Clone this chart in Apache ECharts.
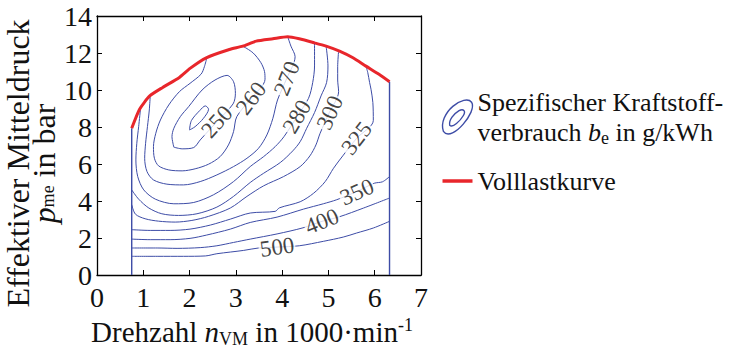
<!DOCTYPE html>
<html>
<head>
<meta charset="utf-8">
<title>Verbrauchskennfeld</title>
<script src="https://cdn.jsdelivr.net/npm/echarts@6/dist/echarts.min.js"></script>
<style>
  html, body { margin: 0; padding: 0; background: #fff; }
  #main { width: 740px; height: 349px; }
</style>
</head>
<body>
<div id="main"></div>
<script>
// Kennfeld: Linien gleichen spezifischen Verbrauchs b_e + Volllastkurve
// x = Drehzahl in 1000/min, y = effektiver Mitteldruck in bar

var xTicks = [0, 1, 2, 3, 4, 5, 6, 7];
var yTicks = [0, 2, 4, 6, 8, 10, 12, 14];

// Isolinien
var be245 = [[2.00,7.88],[2.04,8.35],[2.22,8.89],[2.34,9.14],[2.41,8.96],[2.30,8.47],[2.12,8.02],[2.00,7.84],[2.00,7.88]];
var be250 = [[1.66,6.91],[1.62,7.48],[1.66,7.93],[1.80,8.56],[1.98,9.10],[2.27,10.00],[2.55,10.54],[2.81,10.79],[2.95,10.45],[2.99,9.82],[2.94,9.25],[2.59,8.29],[2.23,7.30],[2.09,6.89],[1.84,6.82],[1.66,6.91]];
var be260 = [[2.37,11.71],[2.32,11.26],[2.25,10.86],[2.01,10.36],[1.78,9.91],[1.55,9.19],[1.37,8.38],[1.27,7.66],[1.22,6.94],[1.24,6.31],[1.33,5.90],[1.55,5.68],[1.84,5.63],[2.12,5.74],[2.41,5.99],[2.66,6.40],[2.84,7.03],[2.95,7.75],[3.02,8.56],[3.33,9.55],[3.63,10.58],[3.62,10.99],[3.54,11.48],[3.37,12.01],[3.15,12.37]];
var be270 = [[1.15,9.68],[1.13,8.92],[1.09,8.02],[1.05,7.12],[1.03,6.31],[1.08,5.59],[1.22,5.14],[1.51,4.91],[1.87,4.87],[2.23,5.05],[2.59,5.41],[2.95,5.86],[3.24,6.31],[3.49,6.85],[3.67,7.57],[3.80,8.47],[3.90,9.46],[4.10,10.63],[4.28,11.80],[4.19,12.37],[4.12,12.88]];
var be280 = [[0.94,8.99],[0.90,8.02],[0.86,7.12],[0.84,6.22],[0.88,5.32],[1.01,4.60],[1.26,4.10],[1.66,3.85],[2.09,3.92],[2.52,4.34],[2.95,5.05],[3.31,5.86],[3.60,6.40],[3.85,6.94],[4.04,7.48],[4.32,8.56],[4.57,9.55],[4.66,10.40],[4.70,11.30],[4.70,12.55]];
var be290 = [[0.75,4.60],[0.90,4.10],[1.12,3.62],[1.40,3.31],[1.76,3.22],[2.16,3.31],[2.59,3.67],[2.95,4.25],[3.31,5.00],[3.60,5.50],[3.96,6.08],[4.23,6.71],[4.39,7.21],[4.53,7.93],[4.70,8.78],[4.84,9.68],[4.96,10.40],[4.99,11.30],[4.95,12.37]];
var be300 = [[0.75,3.80],[0.83,3.29],[1.04,3.04],[1.33,2.91],[1.69,2.86],[2.05,2.95],[2.41,3.17],[2.88,3.62],[3.24,4.25],[3.60,4.82],[4.03,5.32],[4.39,5.86],[4.60,6.44],[4.73,7.03],[4.82,7.66],[5.02,8.78],[5.22,9.91],[5.20,10.54],[5.20,11.26],[5.22,12.12]];
var be325 = [[0.75,2.45],[1.15,2.41],[1.58,2.41],[2.01,2.48],[2.45,2.70],[2.88,3.02],[3.31,3.35],[3.85,3.44],[3.94,3.63],[4.39,3.96],[4.68,4.42],[4.93,5.05],[5.11,5.77],[5.31,6.44],[5.61,7.39],[5.97,8.35],[5.96,9.32],[5.92,10.04],[5.89,10.40],[5.85,10.94],[5.81,11.30]];
var be350 = [[0.75,1.94],[1.15,1.91],[1.58,1.91],[2.01,1.98],[2.37,2.16],[2.88,2.48],[3.31,2.84],[3.89,3.13],[4.46,3.56],[4.89,3.85],[5.18,4.07],[5.61,4.51],[5.99,4.96],[6.17,5.04],[6.32,5.32]];
var be400 = [[0.75,1.46],[1.30,1.46],[1.73,1.44],[2.23,1.48],[2.59,1.58],[2.95,1.76],[3.31,1.94],[3.89,2.22],[4.45,2.55],[4.86,2.90],[5.24,3.15],[5.76,3.62],[6.32,4.16]];
var be500 = [[0.75,1.01],[1.30,1.01],[1.87,1.01],[2.34,1.03],[2.59,1.15],[2.88,1.24],[3.17,1.33],[3.49,1.46],[3.89,1.51],[4.37,1.58],[4.89,1.82],[5.32,2.05],[5.61,2.27],[5.97,2.54],[6.32,2.90]];

// Kennfeldgrenzen links/rechts und Volllastkurve
var grenzeLinks = [[0.75,0],[0.75,7.93]];
var grenzeRechts = [[6.32,0],[6.32,10.45]];
var volllast = [[0.75,7.93],[0.92,8.96],[1.14,9.68],[1.42,10.14],[1.78,10.68],[2.01,11.17],[2.36,11.74],[2.86,12.19],[3.15,12.37],[3.44,12.64],[3.80,12.77],[4.12,12.88],[4.37,12.77],[4.70,12.55],[4.95,12.37],[5.24,12.10],[5.53,11.74],[5.81,11.29],[6.10,10.84],[6.32,10.45]];

// Beschriftung der Isolinien
var labelWerte = ['250', '260', '270', '280', '300', '325', '350', '400', '500'];
var labelOrte = [[2.59,8.29],[3.33,9.55],[4.10,10.63],[4.32,8.56],[5.02,8.78],[5.61,7.39],[5.61,4.51],[4.86,2.90],[3.89,1.51]];

var NAME_BE = 'Spezifischer Kraftstoffverbrauch';
var blau = '#3d4ca6';
var rot = '#e8262b';
var schrift = "'Liberation Serif', 'DejaVu Serif', serif";
var labelWinkel = [48, 53, 68, 60, 66, 52, 24, 22, 8];

// rich-Text: jedes Stueck mit eigener Schrift
function richStil(gr) {
    return {
        t: { fontFamily: schrift, fontSize: gr, color: '#111' },
        i: { fontFamily: schrift, fontSize: gr, fontStyle: 'italic', color: '#111' },
        sub: { fontFamily: schrift, fontSize: 18, verticalAlign: 'bottom', color: '#111' },
        sup: { fontFamily: schrift, fontSize: 18, verticalAlign: 'top', color: '#111' }
    };
}

var chart = echarts.init(document.getElementById('main'), null, { renderer: 'svg' });

var series = [];
[be245, be250, be260, be270, be280, be290, be300, be325, be350, be400, be500].forEach(function(d) {
    series.push({
        name: NAME_BE, type: 'line', data: d,
        symbol: 'none', smooth: 0.3, silent: true, z: 2,
        lineStyle: { color: blau, width: 1 }
    });
});
[grenzeLinks, grenzeRechts].forEach(function(d) {
    series.push({
        name: NAME_BE, type: 'line', data: d,
        symbol: 'none', silent: true, z: 2,
        lineStyle: { color: blau, width: 1.4 }
    });
});
series.push({
    name: 'Volllastkurve', type: 'line', data: volllast,
    symbol: 'none', smooth: 0.2, silent: true, z: 4,
    lineStyle: { color: rot, width: 3 }
});
series.push({
    name: 'labels', type: 'scatter', symbolSize: 0, silent: true, z: 5,
    data: labelOrte.map(function(p, k) {
        return { value: p, label: { formatter: '{t|' + labelWerte[k] + '}', rotate: labelWinkel[k] } };
    }),
    label: {
        show: true, position: 'inside',
        fontFamily: schrift, fontSize: 23, color: '#111',
        backgroundColor: '#fff', padding: [0, 1], lineHeight: 20,
        rich: { t: { fontFamily: schrift, fontSize: 23, color: '#111', lineHeight: 20 } }
    }
});

function achse(pos, ticks, show) {
    return {
        type: 'value', position: pos,
        min: ticks[0], max: ticks[ticks.length - 1], interval: ticks[1] - ticks[0],
        axisLine: { show: true, onZero: false, lineStyle: { color: '#000', width: 1.3 } },
        axisTick: { show: true, inside: true, length: 5, lineStyle: { color: '#000', width: 1 } },
        axisLabel: { show: show, fontFamily: schrift, fontSize: 28, color: '#111',
                     margin: pos === 'bottom' ? 8 : 5 },
        splitLine: { show: false }
    };
}

var xUnten = achse('bottom', xTicks, true);
xUnten.name = '{t|Drehzahl }{i|n}{sub|VM}{t| in 1000·min}{sup|-1}';
xUnten.nameLocation = 'middle';
xUnten.nameGap = 37;
xUnten.nameTextStyle = { fontFamily: schrift, fontSize: 29, color: '#111', lineHeight: 32,
                         padding: [0, 14, 0, 0], rich: richStil(29) };

var yLinks = achse('left', yTicks, true);
yLinks.name = '{t|Effektiver Mitteldruck}\n{i|p}{sub|me}{t| in bar}';
yLinks.nameLocation = 'middle';
yLinks.nameGap = 39;
yLinks.nameTextStyle = { fontFamily: schrift, fontSize: 32, color: '#111', lineHeight: 26,
                         padding: [0, 36, 0, 0], rich: richStil(32) };

chart.setOption({
    animation: false,
    backgroundColor: '#fff',
    textStyle: { fontFamily: schrift },
    grid: { left: 97, top: 16, width: 324, height: 259, containLabel: false, outerBoundsMode: 'none' },
    xAxis: [xUnten, achse('top', xTicks, false)],
    yAxis: [yLinks, achse('right', yTicks, false)],
    legend: {
        orient: 'vertical', left: 440, top: 87, padding: 0,
        itemWidth: 30, itemHeight: 38, itemGap: 19,
        selectedMode: false,
        data: [
            { name: NAME_BE,
              icon: 'path://M2,32C-1,24 4,14 11,8C18,2 26,0 29,4C32,9 27,18 21,25C15,32 6,38 2,32ZM8,26C7,21 12,15 17,12C21,10 24,12 21,17C18,22 11,29 8,26Z',
              itemStyle: { color: 'none', borderColor: blau, borderWidth: 1.4 } },
            { name: 'Volllastkurve',
              icon: 'path://M0,0H30V3.5H0Z',
              itemStyle: { color: rot, borderWidth: 0 } }
        ],
        formatter: function(name) {
            if (name === NAME_BE) {
                return '{t|Spezifischer Kraftstoff-}\n{t|verbrauch }{i|b}{sub|e}{t| in g/kWh}';
            }
            return '{t|' + name + '}';
        },
        textStyle: { fontFamily: schrift, fontSize: 26, color: '#111', lineHeight: 30, rich: richStil(26) }
    },
    series: series
});
</script>
</body>
</html>
